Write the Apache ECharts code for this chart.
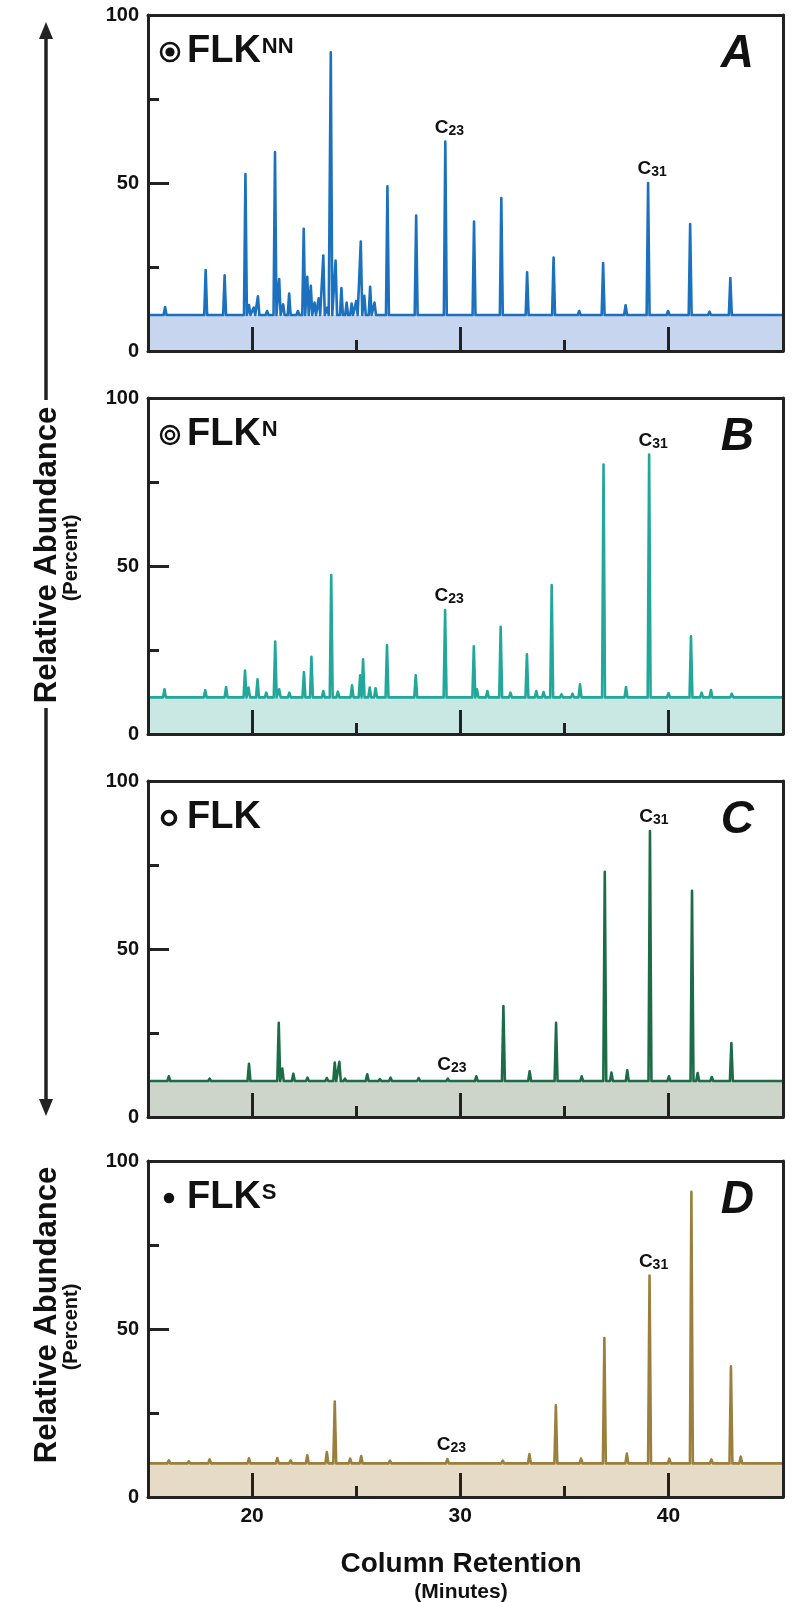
<!DOCTYPE html>
<html><head><meta charset="utf-8">
<script src="https://cdn.jsdelivr.net/npm/echarts@6/dist/echarts.min.js"></script>
<style>html,body{margin:0;padding:0;background:#fff}#c{width:793px;height:1602px}</style>
</head><body><div id="c"></div>
<script>
// ---------- data ----------
const xRange = [15, 45.5];
const xTicksMajor = [20, 30, 40];
const xTicksMinor = [25, 35];
const yLabels = [0, 50, 100];
const yTicksMajor = [50];
const yTicksMinor = [25, 75];

// peaks: [retention time (min), relative abundance (%)]
const baseA = 10.7;
const peaksA = [[15.82,13.1],[17.77,24.1],[18.68,22.5],[19.68,52.7],[19.85,13.7],[20.08,12.9],[20.28,16.3],[20.72,11.9],[21.10,59.2],[21.30,21.4],[21.49,13.9],[21.78,17.1],[22.20,11.9],[22.48,36.4],[22.65,22.1],[22.82,19.4],[23.00,14.4],[23.20,15.7],[23.42,28.4],[23.61,12.9],[23.78,88.9],[24.01,26.9],[24.29,18.7],[24.54,14.4],[24.78,14.1],[25.00,14.9],[25.22,32.6],[25.39,16.4],[25.67,19.1],[25.88,14.4],[26.50,49.0],[27.88,40.3],[29.28,62.3],[30.66,38.5],[31.97,45.5],[33.21,23.4],[34.48,27.8],[35.71,11.9],[36.86,26.2],[37.94,13.6],[39.02,50.0],[39.98,11.9],[41.04,37.8],[41.97,11.7],[42.97,21.7]];
const marksA = [['23',29.28,62.3],['31',39.02,50.0]];

const baseB = 10.9;
const peaksB = [[15.79,13.3],[17.75,13.0],[18.75,14.0],[19.66,18.9],[19.83,13.8],[20.26,16.3],[20.68,12.3],[21.11,27.5],[21.30,13.3],[21.79,12.3],[22.49,18.4],[22.85,23.0],[23.42,12.8],[23.80,47.3],[24.12,12.6],[24.80,14.5],[25.19,17.5],[25.33,22.2],[25.65,13.8],[25.93,13.6],[26.48,26.5],[27.86,17.5],[29.27,36.9],[30.65,26.1],[30.80,13.3],[31.30,12.8],[31.94,31.9],[32.41,12.3],[33.20,23.7],[33.65,12.8],[34.00,12.5],[34.39,44.3],[34.86,11.8],[35.39,12.0],[35.75,14.8],[36.88,80.2],[37.96,14.0],[39.07,83.2],[40.00,12.2],[41.08,29.1],[41.59,12.3],[42.04,13.1],[43.04,12.0]];
const marksB = [['23',29.27,36.9],['31',39.07,83.2]];

const baseC = 10.7;
const peaksC = [[16.00,12.1],[17.96,11.4],[19.85,15.8],[20.30,11.1],[21.28,28.0],[21.45,14.4],[21.98,12.9],[22.66,11.7],[23.59,11.6],[23.97,16.2],[24.19,16.4],[24.46,11.4],[25.53,12.7],[26.14,11.3],[26.65,11.7],[28.00,11.6],[29.40,11.4],[30.77,12.1],[32.07,33.0],[33.33,13.6],[34.60,28.0],[35.83,12.1],[36.94,73.0],[37.26,13.2],[38.02,13.9],[39.11,85.1],[40.02,12.1],[41.13,67.3],[41.40,13.1],[42.08,11.9],[43.02,22.0]];
const marksC = [['23',29.40,11.4],['31',39.11,85.1]];

const baseD = 10.0;
const peaksD = [[16.00,10.9],[16.96,10.6],[17.96,11.2],[19.85,11.5],[21.21,11.6],[21.85,10.9],[22.65,12.4],[23.59,13.4],[23.97,28.4],[24.71,11.4],[25.24,12.2],[26.62,10.8],[29.38,11.3],[32.04,10.8],[33.32,12.7],[34.59,27.3],[35.80,11.4],[36.92,47.3],[38.00,12.9],[39.09,65.9],[40.04,11.4],[41.10,90.8],[42.06,11.2],[43.00,38.9],[43.47,12.0]];
const marksD = [['23',29.38,11.3],['31',39.09,65.9]];

const sampleNames = ['FLK','FLK','FLK','FLK'];
const sampleSups = ['NN','N','','S'];
const panelLetters = ['A','B','C','D'];

const yTitle = 'Relative Abundance';
const ySubTitle = '(Percent)';
const xTitle = 'Column Retention';
const xSubTitle = '(Minutes)';

// ---------- styling / layout ----------
const FONT = '"Liberation Sans", Arial, Helvetica, sans-serif';
const INK = '#111';
const AX = '#222';
const GL = 148, GW = 635, GH = 336;
const gridTops = [15, 398, 781, 1161];
const styles = [
  {line:'#1b71bd', fill:'#c7d5ee'},
  {line:'#22a89a', fill:'#c9e7e3'},
  {line:'#1b6c47', fill:'#cdd5cb'},
  {line:'#9b803d', fill:'#e5dbc6'}
];
const panels = [
  {peaks:peaksA, base:baseA, marks:marksA},
  {peaks:peaksB, base:baseB, marks:marksB},
  {peaks:peaksC, base:baseC, marks:marksC},
  {peaks:peaksD, base:baseD, marks:marksD}
];
const HW = 0.07; // peak half width at baseline (minutes)

function trace(peaks, base){
  const pts = [[xRange[0], base]];
  peaks.forEach(([t,h]) => { pts.push([t-HW, base],[t,h],[t+HW, base]); });
  pts.push([xRange[1], base]);
  return pts;
}

const grid=[], xAxis=[], yAxis=[], series=[], title=[], graphic=[];
const axLine = {show:true, onZero:false, lineStyle:{color:AX, width:3}};
const noLine = {show:false};

panels.forEach((p, i) => {
  const top = gridTops[i];
  grid.push({left:GL, top:top, width:GW, height:GH, containLabel:false});
  xAxis.push({gridIndex:i, type:'value', min:xRange[0], max:xRange[1], position:'bottom', z:10,
    axisLine:axLine, splitLine:{show:false},
    axisTick:{show:true, inside:true, length:24, customValues:xTicksMajor, lineStyle:{color:AX, width:3}},
    axisLabel:{show:i===3, customValues:xTicksMajor, fontSize:21, fontWeight:'bold', color:INK, fontFamily:FONT, margin:9}});
  xAxis.push({gridIndex:i, type:'value', min:xRange[0], max:xRange[1], position:'bottom', z:10,
    axisLine:noLine, splitLine:{show:false},
    axisTick:{show:true, inside:true, length:11, customValues:xTicksMinor, lineStyle:{color:AX, width:3}},
    axisLabel:{show:false}});
  xAxis.push({gridIndex:i, type:'value', min:xRange[0], max:xRange[1], position:'top', z:10,
    axisLine:axLine, splitLine:{show:false}, axisTick:{show:false}, axisLabel:{show:false}});
  yAxis.push({gridIndex:i, type:'value', min:0, max:100, position:'left', z:10,
    axisLine:axLine, splitLine:{show:false},
    axisTick:{show:true, inside:true, length:21, customValues:yTicksMajor, lineStyle:{color:AX, width:3}},
    axisLabel:{show:true, customValues:yLabels, fontSize:20, fontWeight:'bold', color:INK, fontFamily:FONT, margin:9}});
  yAxis.push({gridIndex:i, type:'value', min:0, max:100, position:'left', z:10,
    axisLine:noLine, splitLine:{show:false},
    axisTick:{show:true, inside:true, length:11, customValues:yTicksMinor, lineStyle:{color:AX, width:3}},
    axisLabel:{show:false}});
  yAxis.push({gridIndex:i, type:'value', min:0, max:100, position:'right', z:10,
    axisLine:axLine, splitLine:{show:false}, axisTick:{show:false}, axisLabel:{show:false}});

  const xi = i*3, yi = i*3;
  series.push({type:'line', xAxisIndex:xi, yAxisIndex:yi, z:1, silent:true, symbol:'none',
    data:[[xRange[0], p.base],[xRange[1], p.base]],
    lineStyle:{width:0, opacity:0}, areaStyle:{color:styles[i].fill, opacity:1}});
  series.push({type:'line', xAxisIndex:xi, yAxisIndex:yi, z:3, silent:true, symbol:'none',
    data:trace(p.peaks, p.base),
    lineStyle:{color:styles[i].line, width:2.6, join:'round'},
    markPoint:{symbol:'circle', symbolSize:1, itemStyle:{color:'rgba(0,0,0,0)'}, silent:true,
      label:{show:true, position:'top', distance:3, offset:[4,0], color:INK,
        formatter:(d)=>'{c|C}{s|'+d.name+'}',
        rich:{c:{fontSize:19, fontWeight:'bold', fontFamily:FONT, color:INK, lineHeight:21},
              s:{fontSize:14, fontWeight:'bold', fontFamily:FONT, color:INK, lineHeight:14, verticalAlign:'bottom'}}},
      data:p.marks.map(m=>({name:m[0], coord:[m[1], m[2]]}))}
  });

  title.push({left:187, top:top+17, padding:0,
    text:'{m|'+sampleNames[i]+'}'+(sampleSups[i] ? '{s|'+sampleSups[i]+'}' : ''),
    textStyle:{rich:{
      m:{fontSize:38, fontWeight:'bold', fontFamily:FONT, color:INK, lineHeight:40},
      s:{fontSize:22, fontWeight:'bold', fontFamily:FONT, color:INK, lineHeight:22, verticalAlign:'top', padding:[4,0,0,1]}}}});
  title.push({right:39, top:top+16, padding:0, text:panelLetters[i],
    textStyle:{fontSize:46, fontWeight:'bold', fontStyle:'italic', fontFamily:FONT, color:INK, lineHeight:46}});

  const cx = 170, cy = top + 37;
  if (i === 0) {
    graphic.push({type:'circle', shape:{cx, cy, r:9}, style:{fill:'none', stroke:INK, lineWidth:2.6}});
    graphic.push({type:'circle', shape:{cx, cy, r:4.6}, style:{fill:INK}});
  } else if (i === 1) {
    graphic.push({type:'circle', shape:{cx, cy, r:9}, style:{fill:'none', stroke:INK, lineWidth:2.4}});
    graphic.push({type:'circle', shape:{cx, cy, r:4.2}, style:{fill:'none', stroke:INK, lineWidth:2.4}});
  } else if (i === 2) {
    graphic.push({type:'circle', shape:{cx:cx-1, cy, r:6.5}, style:{fill:'none', stroke:INK, lineWidth:3.6}});
  } else {
    graphic.push({type:'circle', shape:{cx:cx-1, cy, r:5.2}, style:{fill:INK}});
  }
});

// left double arrow and axis titles
const AXX = 46;
graphic.push({type:'line', shape:{x1:AXX, y1:36, x2:AXX, y2:400}, style:{stroke:AX, lineWidth:3.5}});
graphic.push({type:'line', shape:{x1:AXX, y1:708, x2:AXX, y2:1104}, style:{stroke:AX, lineWidth:3.5}});
graphic.push({type:'polygon', shape:{points:[[AXX,22],[AXX-7,39],[AXX+7,39]]}, style:{fill:AX}});
graphic.push({type:'polygon', shape:{points:[[AXX,1116],[AXX-7,1099],[AXX+7,1099]]}, style:{fill:AX}});

function vtext(x, y, txt, size){
  return {type:'text', x:x, y:y, rotation:Math.PI/2,
    style:{text:txt, fontSize:size, fontWeight:'bold', fontFamily:FONT, fill:INK, align:'center', verticalAlign:'middle'}};
}
graphic.push(vtext(AXX+1, 555, yTitle, 31));
graphic.push(vtext(71, 558, ySubTitle, 20));
graphic.push(vtext(AXX+1, 1315, yTitle, 31));
graphic.push(vtext(71, 1327, ySubTitle, 20));

graphic.push({type:'text', x:461, y:1564, style:{text:xTitle, fontSize:28, fontWeight:'bold', fontFamily:FONT, fill:INK, align:'center', verticalAlign:'middle'}});
graphic.push({type:'text', x:461, y:1592, style:{text:xSubTitle, fontSize:21, fontWeight:'bold', fontFamily:FONT, fill:INK, align:'center', verticalAlign:'middle'}});

const chart = echarts.init(document.getElementById('c'), null, {renderer:'canvas'});
chart.setOption({animation:false, backgroundColor:'#fff', grid, xAxis, yAxis, series, title, graphic});
</script></body></html>
